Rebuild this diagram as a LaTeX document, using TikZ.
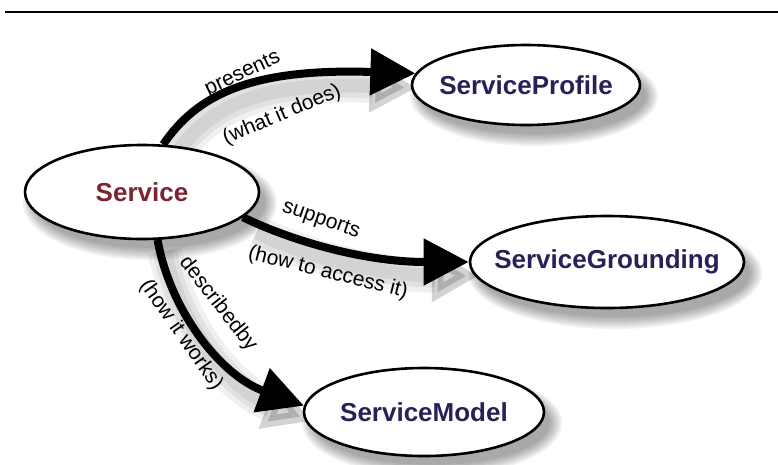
\documentclass[tikz,border=0pt]{standalone}
\usepackage{fontspec}
\setmainfont{Liberation Sans}
\usetikzlibrary{shapes.geometric,arrows.meta}
\definecolor{svcred}{RGB}{122,36,52}
\definecolor{navy}{RGB}{40,32,86}
\newcommand\ovalshadow[4]{%
  \foreach \k in {0,...,6}{%
    \fill[black,opacity=0.055] (#1+8,#2+11) ellipse [x radius={#3+10-2*\k}, y radius={#4+10-2*\k}];}}
\begin{document}
\begin{tikzpicture}[x=1pt,y=-1pt,
  oval/.style={ellipse, draw=black, line width=2.6pt, fill=white, inner sep=0pt,
    font=\fontsize{26}{26}\selectfont\bfseries},
  conn/.style={line width=8pt, -{Triangle[length=45pt,width=45pt]}},
  connshade/.style={line width=#1, draw=black, opacity=0.06, -{Triangle[length=46pt,width=50pt]}},
  lab/.style={inner sep=0pt, font=\fontsize{21}{21}\selectfont}
]
\useasboundingbox (0,0) rectangle (778,464);
\fill[white] (0,0) rectangle (778,464);
% top rule
\draw[line width=2pt] (5,12) -- (778,12);

% shadows of the ovals
\ovalshadow{142}{192}{117}{47}
\ovalshadow{526}{85}{114}{40}
\ovalshadow{607}{262}{137}{46}
\ovalshadow{424}{412}{120}{44}

% shadows of the arrows
\begin{scope}[shift={(8,13)}]
\foreach \w in {34pt,24pt,14pt}{
  \draw[connshade=\w] (165,146) .. controls (197,95) and (250,68) .. (408,75);
  \draw[connshade=\w] (249,219) .. controls (285,238) and (360,262) .. (470,263);
  \draw[connshade=\w] (157,238) .. controls (170,310) and (220,375) .. (303,408);
}
\end{scope}

% nodes
\node[oval, minimum width=234pt, minimum height=94pt, text=svcred] (svc) at (142,192) {\makebox[0pt]{Service}};
\node[oval, minimum width=228pt, minimum height=80pt, text=navy] (prof) at (526,85) {\makebox[0pt]{ServiceProfile}};
\node[oval, minimum width=274pt, minimum height=92pt, text=navy] (grd) at (607,262) {\makebox[0pt]{ServiceGrounding}};
\node[oval, minimum width=240pt, minimum height=88pt, text=navy] (mod) at (424,412) {\makebox[0pt]{ServiceModel}};

% connectors
\draw[conn] (svc.66) .. controls (197,95) and (250,68) .. (prof.174);
\draw[conn] (svc.-14) .. controls (285,238) and (360,262) .. (grd.180);
\draw[conn] (svc.-72) .. controls (170,310) and (220,375) .. (mod.177);

% labels
\node[lab, rotate=25] (l1) at (243,74) {presents};
\node[lab, rotate=23] (l2) at (282,115) {(what it does)};
\node[lab, rotate=-19] (l3) at (321,220) {supports};
\node[lab, rotate=-14] (l4) at (328,273) {(how to access it)};
\node[lab, rotate=-52] (l5) at (218,304) {describedby};
\node[lab, rotate=-55] (l6) at (181,335) {(how it works)};
\end{tikzpicture}
\end{document}
